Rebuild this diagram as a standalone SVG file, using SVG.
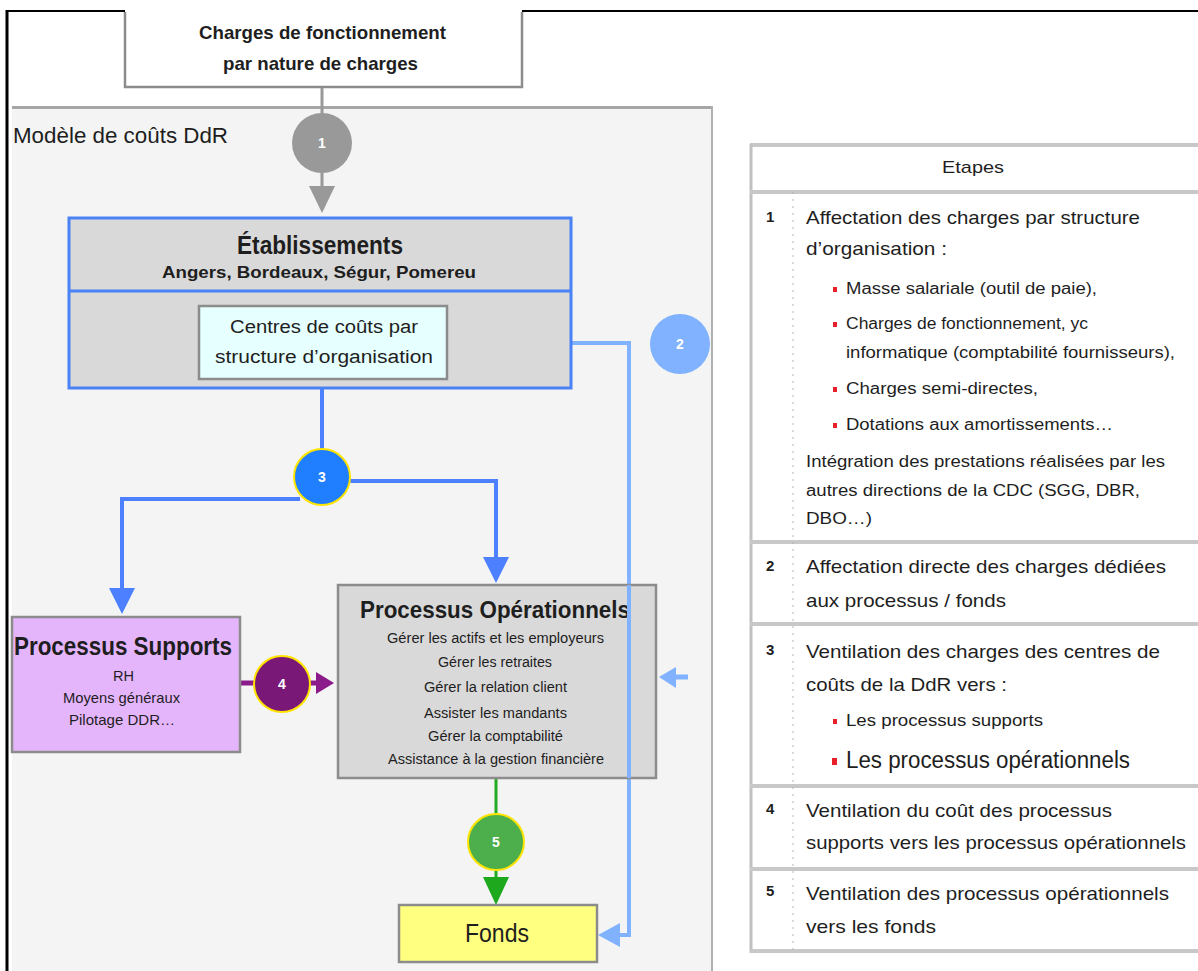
<svg xmlns="http://www.w3.org/2000/svg" width="1198" height="971" viewBox="0 0 1198 971">
  <style>
    text { font-family: "Liberation Sans", Arial, sans-serif; fill: #1e1e1e; }
    .b { font-weight: bold; }
    .box { stroke: #8c8c8c; stroke-width: 2.5; }
    .num { font-weight: bold; fill: #ffffff; font-size: 14px; text-anchor: middle; }
    .tnum { font-weight: bold; font-size: 15px; }
    .row { font-size: 19px; }
    .sub { font-size: 16px; }
    .rule { stroke: #c8c8c8; stroke-width: 4; }
    .bul { fill: #e8202a; }
  </style>

  <!-- outer frame -->
  <rect x="0" y="0" width="1198" height="971" fill="#ffffff"/>
  <line x1="6" y1="11" x2="1198" y2="11" stroke="#000" stroke-width="2"/>
  <line x1="7" y1="10" x2="7" y2="971" stroke="#000" stroke-width="3"/>

  <!-- cost model panel -->
  <g id="panel">
    <rect x="12" y="107" width="700" height="870" fill="#f4f4f4"/>
    <line x1="12" y1="107.5" x2="713" y2="107.5" stroke="#a6a6a6" stroke-width="3"/>
    <line x1="712" y1="106" x2="712" y2="971" stroke="#b0b0b0" stroke-width="2"/>
    <text x="13" y="143" font-size="22" textLength="215" lengthAdjust="spacingAndGlyphs">Modèle de coûts DdR</text>
  </g>

  <!-- source node (open at the top, hanging from the frame) -->
  <g id="charges">
    <rect x="125" y="10" width="397" height="77" fill="#ffffff"/>
    <path d="M125,12 V87 H522 V12" fill="none" class="box"/>
    <text x="199" y="39" class="b" font-size="19" textLength="247" lengthAdjust="spacingAndGlyphs">Charges de fonctionnement</text>
    <text x="223" y="70" class="b" font-size="19" textLength="195" lengthAdjust="spacingAndGlyphs">par nature de charges</text>
  </g>

  <!-- connectors -->
  <g id="connectors" fill="none">
    <!-- step 1 -->
    <line x1="322" y1="88" x2="322" y2="190" stroke="#999999" stroke-width="3"/>
    <polygon points="309,186 335,186 322,213" fill="#999999"/>
    <!-- step 3 -->
    <line x1="322" y1="388" x2="322" y2="452" stroke="#4d80ff" stroke-width="4"/>
    <polyline points="300,499 122,499 122,592" stroke="#4d80ff" stroke-width="4"/>
    <polygon points="109,588 135,588 122,614" fill="#4d80ff"/>
    <polyline points="345,481 496,481 496,560" stroke="#4d80ff" stroke-width="4"/>
    <polygon points="483,557 509,557 496,583" fill="#4d80ff"/>
    <!-- step 2 -->
    <polyline points="447,343 629,343 629,935 612,935" stroke="#80b2ff" stroke-width="4"/>
    <polygon points="598,935 620,923 620,947" fill="#80b2ff"/>
    <line x1="688" y1="677" x2="670" y2="677" stroke="#80b2ff" stroke-width="5"/>
    <polygon points="659,677 676,667 676,688" fill="#80b2ff"/>
    <!-- step 4 -->
    <line x1="240" y1="683" x2="258" y2="683" stroke="#8b1a8b" stroke-width="5"/>
    <line x1="308" y1="683" x2="320" y2="683" stroke="#8b1a8b" stroke-width="5"/>
    <polygon points="334,683 316,672 316,694" fill="#8b1a8b"/>
    <!-- step 5 -->
    <line x1="496" y1="778" x2="496" y2="816" stroke="#22aa22" stroke-width="3"/>
    <line x1="496" y1="868" x2="496" y2="882" stroke="#22aa22" stroke-width="3"/>
    <polygon points="483,877 509,877 496,905" fill="#1ea81e"/>
  </g>

  <!-- establishments -->
  <g id="etablissements">
    <rect x="69" y="218" width="502" height="170" fill="#d9d9d9" stroke="#4a82f5" stroke-width="3"/>
    <line x1="69" y1="291" x2="571" y2="291" stroke="#4a82f5" stroke-width="3"/>
    <text x="237" y="254" class="b" font-size="25" textLength="166" lengthAdjust="spacingAndGlyphs">Établissements</text>
    <text x="162" y="278" class="b" font-size="17" textLength="314" lengthAdjust="spacingAndGlyphs">Angers, Bordeaux, Ségur, Pomereu</text>
  </g>

  <g id="centres">
    <rect x="199" y="306" width="248" height="73" fill="#e6ffff" class="box"/>
    <text x="230" y="333" font-size="18" textLength="188" lengthAdjust="spacingAndGlyphs">Centres de coûts par</text>
    <text x="215" y="363" font-size="18" textLength="218" lengthAdjust="spacingAndGlyphs">structure d’organisation</text>
  </g>

  <!-- step markers -->
  <g id="step1">
    <circle cx="322" cy="143" r="30" fill="#999999"/>
    <text x="322" y="148" class="num">1</text>
  </g>
  <g id="step2">
    <circle cx="680" cy="344" r="30" fill="#80b2ff"/>
    <text x="680" y="349" class="num">2</text>
  </g>
  <g id="step3">
    <circle cx="322" cy="477" r="28" fill="#1f7fff" stroke="#ffe400" stroke-width="2"/>
    <text x="322" y="482" class="num">3</text>
  </g>

  <!-- support processes -->
  <g id="supports">
    <rect x="12" y="617" width="228" height="135" fill="#e5b5fc" class="box"/>
    <text x="14" y="655" class="b" font-size="25" textLength="218" lengthAdjust="spacingAndGlyphs">Processus Supports</text>
    <text x="113" y="681" font-size="15" textLength="21" lengthAdjust="spacingAndGlyphs">RH</text>
    <text x="63" y="703" font-size="15" textLength="117" lengthAdjust="spacingAndGlyphs">Moyens généraux</text>
    <text x="69" y="725" font-size="15" textLength="106" lengthAdjust="spacingAndGlyphs">Pilotage DDR…</text>
  </g>

  <g id="step4">
    <circle cx="282" cy="684" r="28" fill="#7a1878" stroke="#ffe400" stroke-width="2"/>
    <text x="282" y="689" class="num">4</text>
  </g>

  <!-- operational processes -->
  <g id="operationnels">
    <rect x="338" y="585" width="318" height="193" fill="#d9d9d9" class="box"/>
    <text x="360" y="618" class="b" font-size="24" textLength="270" lengthAdjust="spacingAndGlyphs">Processus Opérationnels</text>
    <text x="387" y="643" font-size="14" textLength="217" lengthAdjust="spacingAndGlyphs">Gérer les actifs et les employeurs</text>
    <text x="438" y="667" font-size="14" textLength="114" lengthAdjust="spacingAndGlyphs">Gérer les retraites</text>
    <text x="424" y="692" font-size="14" textLength="143" lengthAdjust="spacingAndGlyphs">Gérer la relation client</text>
    <text x="424" y="718" font-size="14" textLength="143" lengthAdjust="spacingAndGlyphs">Assister les mandants</text>
    <text x="428" y="741" font-size="14" textLength="135" lengthAdjust="spacingAndGlyphs">Gérer la comptabilité</text>
    <text x="388" y="764" font-size="14" textLength="216" lengthAdjust="spacingAndGlyphs">Assistance à la gestion financière</text>
  </g>

  <!-- direct-allocation line passes over the operational box -->
  <line x1="629" y1="585" x2="629" y2="778" stroke="#80b2ff" stroke-width="4"/>

  <g id="step5">
    <circle cx="496" cy="842" r="28" fill="#4caf4c" stroke="#ffe400" stroke-width="2"/>
    <text x="496" y="847" class="num">5</text>
  </g>

  <g id="fonds">
    <rect x="399" y="905" width="198" height="57" fill="#ffff80" class="box"/>
    <text x="465" y="942" font-size="26" fill="#111" textLength="64" lengthAdjust="spacingAndGlyphs">Fonds</text>
  </g>

  <!-- steps table -->
  <g id="etapes">
    <rect x="750" y="145" width="448" height="807" fill="#ffffff"/>
    <line x1="750" y1="145" x2="1198" y2="145" class="rule" stroke-width="3"/>
    <line x1="751" y1="144" x2="751" y2="953" stroke="#c0c0c0" stroke-width="3"/>
    <line x1="750" y1="192" x2="1198" y2="192" class="rule"/>
    <line x1="750" y1="542" x2="1198" y2="542" class="rule"/>
    <line x1="750" y1="624" x2="1198" y2="624" class="rule"/>
    <line x1="750" y1="786" x2="1198" y2="786" class="rule"/>
    <line x1="750" y1="869" x2="1198" y2="869" class="rule"/>
    <line x1="750" y1="951" x2="1198" y2="951" class="rule"/>
    <line x1="793" y1="192" x2="793" y2="951" stroke="#b4b4b4" stroke-width="1" stroke-dasharray="2,5"/>

    <text x="942" y="173" font-size="17" textLength="62" lengthAdjust="spacingAndGlyphs">Etapes</text>

    <!-- row 1 -->
    <text x="766" y="222" class="tnum">1</text>
    <text x="806" y="224" class="row" textLength="334" lengthAdjust="spacingAndGlyphs">Affectation des charges par structure</text>
    <text x="806" y="255" class="row" textLength="141" lengthAdjust="spacingAndGlyphs">d’organisation :</text>
    <rect x="833" y="287" width="4" height="5" class="bul"/>
    <text x="846" y="294" class="sub" textLength="251" lengthAdjust="spacingAndGlyphs">Masse salariale (outil de paie),</text>
    <rect x="833" y="322" width="4" height="5" class="bul"/>
    <text x="846" y="329" class="sub" textLength="242" lengthAdjust="spacingAndGlyphs">Charges de fonctionnement, yc</text>
    <text x="846" y="358" class="sub" textLength="329" lengthAdjust="spacingAndGlyphs">informatique (comptabilité fournisseurs),</text>
    <rect x="833" y="387" width="4" height="5" class="bul"/>
    <text x="846" y="394" class="sub" textLength="192" lengthAdjust="spacingAndGlyphs">Charges semi-directes,</text>
    <rect x="833" y="423" width="4" height="5" class="bul"/>
    <text x="846" y="430" class="sub" textLength="267" lengthAdjust="spacingAndGlyphs">Dotations aux amortissements…</text>
    <text x="806" y="467" class="sub" textLength="359" lengthAdjust="spacingAndGlyphs">Intégration des prestations réalisées par les</text>
    <text x="806" y="496" class="sub" textLength="334" lengthAdjust="spacingAndGlyphs">autres directions de la CDC (SGG, DBR,</text>
    <text x="806" y="524" class="sub" textLength="66" lengthAdjust="spacingAndGlyphs">DBO…)</text>

    <!-- row 2 -->
    <text x="766" y="571" class="tnum">2</text>
    <text x="806" y="573" class="row" textLength="360" lengthAdjust="spacingAndGlyphs">Affectation directe des charges dédiées</text>
    <text x="806" y="607" class="row" textLength="200" lengthAdjust="spacingAndGlyphs">aux processus / fonds</text>

    <!-- row 3 -->
    <text x="766" y="655" class="tnum">3</text>
    <text x="806" y="658" class="row" textLength="354" lengthAdjust="spacingAndGlyphs">Ventilation des charges des centres de</text>
    <text x="806" y="691" class="row" textLength="201" lengthAdjust="spacingAndGlyphs">coûts de la DdR vers :</text>
    <rect x="833" y="719" width="4" height="5" class="bul"/>
    <text x="846" y="726" class="sub" textLength="197" lengthAdjust="spacingAndGlyphs">Les processus supports</text>
    <rect x="832" y="758" width="5" height="7" class="bul"/>
    <text x="846" y="768" font-size="23" textLength="284" lengthAdjust="spacingAndGlyphs">Les processus opérationnels</text>

    <!-- row 4 -->
    <text x="766" y="814" class="tnum">4</text>
    <text x="806" y="817" class="row" textLength="306" lengthAdjust="spacingAndGlyphs">Ventilation du coût des processus</text>
    <text x="806" y="849" class="row" textLength="380" lengthAdjust="spacingAndGlyphs">supports vers les processus opérationnels</text>

    <!-- row 5 -->
    <text x="766" y="896" class="tnum">5</text>
    <text x="806" y="900" class="row" textLength="363" lengthAdjust="spacingAndGlyphs">Ventilation des processus opérationnels</text>
    <text x="806" y="933" class="row" textLength="130" lengthAdjust="spacingAndGlyphs">vers les fonds</text>
  </g>
</svg>
